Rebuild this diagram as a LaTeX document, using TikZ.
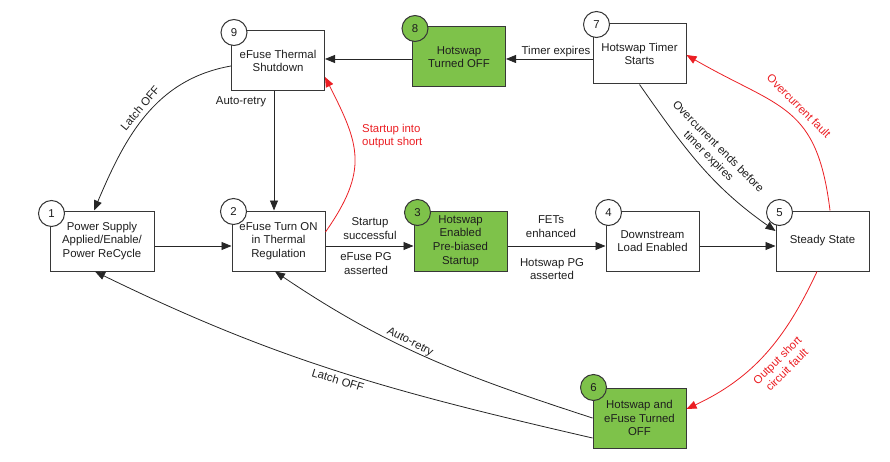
\documentclass[tikz,border=0pt]{standalone}
\usepackage{fontspec}
\setmainfont{Liberation Sans}
\usetikzlibrary{arrows.meta}
\definecolor{gfill}{RGB}{126,194,74}
\definecolor{rline}{RGB}{235,30,35}
\definecolor{txt}{RGB}{30,30,30}
\definecolor{edge}{RGB}{55,55,55}
\begin{document}
\begin{tikzpicture}[x=1pt,y=1pt, font=\fontsize{11.4}{13.6}\selectfont, text=txt,
  state/.style={draw=edge, line width=1pt, fill=white, minimum width=93pt, minimum height=60pt, inner sep=0pt, align=center},
  gstate/.style={state, fill=gfill},
  numc/.style={circle, draw=edge, line width=1pt, fill=white, minimum size=26pt, inner sep=0pt},
  gnum/.style={numc, fill=gfill},
  arr/.style={draw=black!85, line width=0.8pt, -{Triangle[length=10pt,width=8pt]}},
  rarr/.style={arr, draw=rline},
  lbl/.style={align=center, inner sep=1pt},
  rlbl/.style={lbl, text=rline}]
\useasboundingbox (0,0) rectangle (890,461);

% states
\node[state, minimum width=104pt] (b1) at (102,220) {Power Supply\\Applied/Enable/\\Power ReCycle};
\node[state] (b2) at (278.5,220) {eFuse Turn ON\\in Thermal\\Regulation};
\node[gstate] (b3) at (460.5,220) {Hotswap\\Enabled\\Pre-biased\\Startup};
\node[state] (b4) at (652.5,220) {Downstream\\Load Enabled};
\node[state] (b5) at (822.5,220) {Steady State};
\node[state] (b9) at (278,400) {eFuse Thermal\\Shutdown};
\node[gstate] (b8) at (459,404) {Hotswap\\Turned OFF};
\node[state] (b7) at (639.5,407) {Hotswap Timer\\Starts};
\node[gstate] (b6) at (639.5,43) {Hotswap and\\eFuse Turned\\OFF};

% number circles
\node[numc] (n1) at ([shift={(2pt,-3pt)}]b1.north west) {1};
\node[numc] (n2) at ([shift={(2pt,-1pt)}]b2.north west) {2};
\node[gnum] (n3) at ([shift={(4pt,-2pt)}]b3.north west) {3};
\node[numc] (n4) at ([shift={(3pt,-2pt)}]b4.north west) {4};
\node[numc] (n5) at ([shift={(4pt,-2pt)}]b5.north west) {5};
\node[gnum] (n6) at ([shift={(1pt,0pt)}]b6.north west) {6};
\node[numc] (n7) at ([shift={(4pt,-1pt)}]b7.north west) {7};
\node[gnum] (n8) at ([shift={(3pt,-2pt)}]b8.north west) {8};
\node[numc] (n9) at ([shift={(3pt,-2pt)}]b9.north west) {9};

% straight transitions
\draw[arr] ([yshift=-5pt]b1.east) -- ([yshift=-5pt]b2.west);
\draw[arr] ([yshift=-5pt]b2.east) -- ([yshift=-5pt]b3.west);
\draw[arr] ([yshift=-5pt]b3.east) -- ([yshift=-5pt]b4.west);
\draw[arr] ([yshift=-5pt]b4.east) -- ([yshift=-5pt]b5.west);
\draw[arr] ([xshift=-4pt]b9.south) -- ([xshift=-4pt]b9.south |- b2.north);
\draw[arr] ([yshift=-2pt]b8.west) -- ([yshift=-2pt]b8.west -| b9.east);
\draw[arr] ([yshift=-5pt]b7.west) -- ([yshift=-5pt]b7.west -| b8.east);

\node[lbl] (l23a) at (370,232.5) {Startup\\successful};
\node[lbl] (l23b) at (366,197.5) {eFuse PG\\asserted};
\node[lbl] (l34a) at (551,234.5) {FETs\\enhanced};
\node[lbl] (l34b) at (552,192) {Hotswap PG\\asserted};
\node[lbl] (l92) at (241,359) {Auto-retry};
\node[lbl] (l78) at (556,409.5) {Timer expires};

% curved black transitions
\draw[arr] ([yshift=-5pt]b9.west) to[out=190,in=67] ([xshift=-8pt]b1.north);
\node[lbl, rotate=50] (l91) at (140,353) {Latch OFF};
\draw[arr] (b7.south) to[out=-55,in=145] ([yshift=10pt]b5.west);
\node[lbl, rotate=-45] (l75) at (713,309) {Overcurrent ends before\\timer expires};
\draw[arr] (b6.west) to[out=162,in=-34] ([xshift=-3.5pt]b2.south);
\node[lbl, rotate=-27] (l62) at (410,119) {Auto-retry};
\draw[arr] ([yshift=-20pt]b6.west) to[out=167,in=-26] ([xshift=-7pt]b1.south);
\node[lbl, rotate=-17] (l61) at (338,81) {Latch OFF};

% red fault transitions
\draw[rarr] ([yshift=9pt]b2.east) to[out=55,in=-63,looseness=1.25] ([yshift=-16pt]b9.east);
\node[rlbl, anchor=west, align=left] (l29) at (361,325) {Startup into\\output short};
\draw[rarr] ([xshift=7.5pt]b5.north) to[out=97,in=-30,looseness=1.3] ([yshift=-1pt]b7.east);
\node[rlbl, rotate=-45] (l57) at (799,355) {Overcurrent fault};
\draw[rarr] ([xshift=-5.5pt]b5.south) to[out=-115,in=25] ([yshift=9pt]b6.east);
\node[rlbl, rotate=45] (l56) at (782,96) {Output short\\circuit fault};
\end{tikzpicture}
\end{document}
